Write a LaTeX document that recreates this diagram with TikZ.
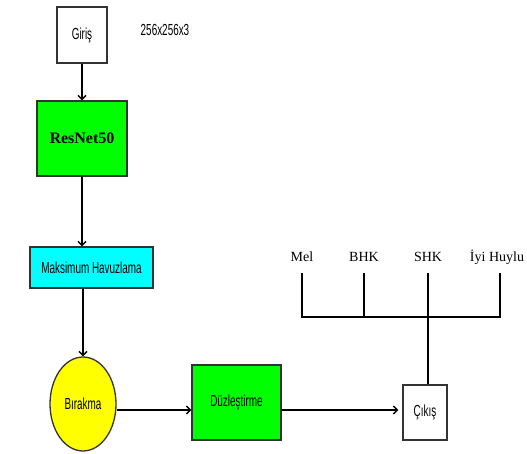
\documentclass[tikz,border=0pt]{standalone}
\usepackage{fontspec}
\setmainfont{Liberation Serif}
\newfontfamily\narrowsans[FakeStretch=0.62]{Liberation Sans}
\usetikzlibrary{arrows.meta,shapes.geometric}
\definecolor{boxgreen}{HTML}{00FF00}
\definecolor{boxcyan}{HTML}{00FFFF}
\definecolor{boxyellow}{HTML}{FFFF00}
\begin{document}
\begin{tikzpicture}[x=1pt,y=-1pt,
  blk/.style={draw=black!80,line width=1.3pt,inner sep=0pt,font=\narrowsans\fontsize{16}{18}\selectfont},
  lbl/.style={font=\fontsize{14}{16}\selectfont,inner sep=0pt},
  arr/.style={line width=1.4pt,-{Straight Barb[length=4pt,width=8pt,line width=1.4pt]}},
  ln/.style={line width=1.3pt}]
\useasboundingbox (0,0) rectangle (527,454);
\node[blk,fill=white,minimum width=50pt,minimum height=56pt] (in) at (82,35) {Giriş};
\node[font=\narrowsans\fontsize{16}{18}\selectfont,inner sep=0pt] (dim) at (165,30) {256x256x3};
\node[blk,fill=boxgreen,minimum width=90pt,minimum height=75pt,font=\bfseries\fontsize{16}{18}\selectfont] (res) at (82,138.5) {ResNet50};
\node[blk,fill=boxcyan,minimum width=123pt,minimum height=41pt] (mh) at (91.5,267.5) {Maksimum Havuzlama};
\node[blk,fill=boxyellow,ellipse,minimum width=66pt,minimum height=94pt] (bir) at (83,404) {Bırakma};
\node[blk,fill=boxgreen,minimum width=89pt,minimum height=75pt] (duz) at (236.5,402.5) {Düzleştirme};
\node[blk,fill=white,minimum width=44pt,minimum height=55pt] (out) at (425,412.5) {Çıkış};

\draw[arr] (in.south) -- (res.north);
\draw[arr] (res.south) -- (res.south |- mh.north);
\draw[arr] (bir.north |- mh.south) -- (bir.north);
\draw[arr] (bir.east |- 0,410) -- (duz.west |- 0,410);
\draw[arr] (duz.east |- 0,410) -- ([xshift=-4pt]out.west |- 0,410);

\node[lbl] (mel) at (302,257) {Mel};
\node[lbl] (bhk) at (364,257) {BHK};
\node[lbl] (shk) at (428,257) {SHK};
\node[lbl] (iyi) at (497,257) {İyi Huylu};
\coordinate (tm) at (302,273);
\coordinate (tb) at (364,273);
\coordinate (ts) at (428,273);
\coordinate (ti) at (500,273);
\coordinate (jm) at (302,317);
\coordinate (jb) at (364,317);
\coordinate (js) at (428,317);
\coordinate (ji) at (500,317);
\draw[ln] (tm) -- (jm) -- (ji) -- (ti);
\draw[ln] (tb) -- (jb);
\draw[ln] (ts) -- (js);
\draw[ln] (js) -- (js |- out.north);
\end{tikzpicture}
\end{document}
